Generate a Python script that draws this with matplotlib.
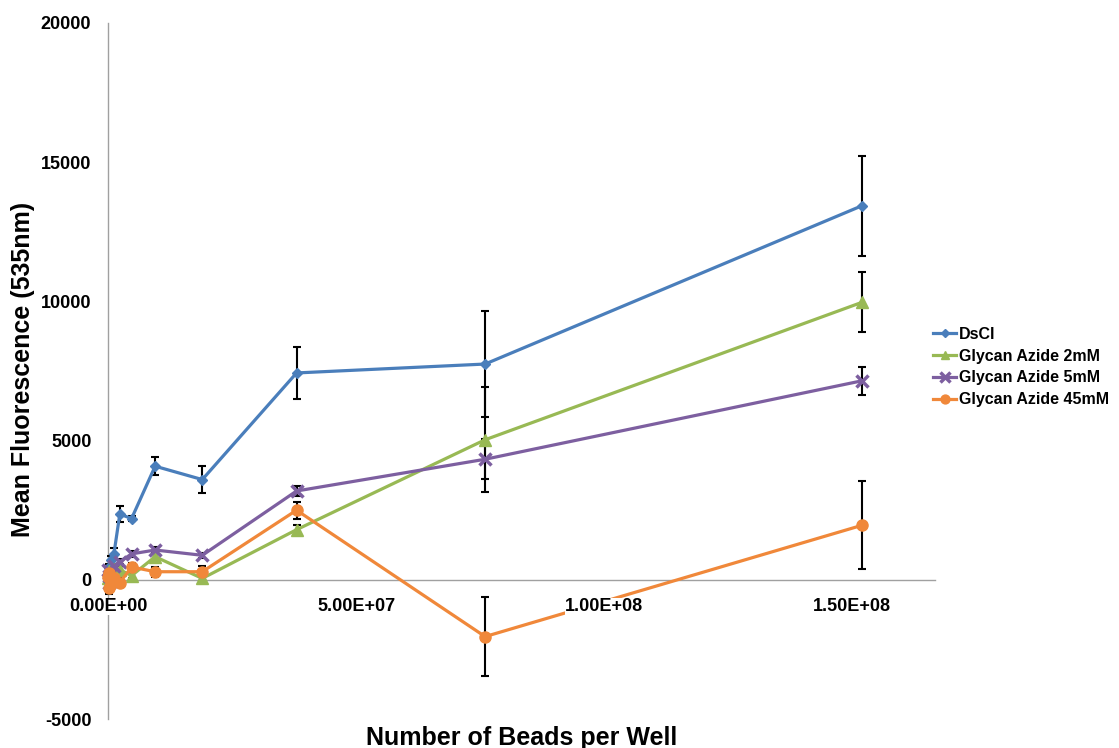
import matplotlib
matplotlib.use("Agg")
import matplotlib.pyplot as plt
from matplotlib.ticker import FuncFormatter, FixedLocator

plt.rcParams['font.family'] = ['Liberation Sans', 'DejaVu Sans']

# Beads per well (serial two-fold dilution)
beads = [0, 1.48e5, 2.97e5, 5.94e5, 1.19e6, 2.38e6, 4.75e6, 9.5e6, 1.9e7, 3.8e7, 7.6e7, 1.52e8]

dscl = [200, 300, 450, 700, 930, 2360, 2200, 4080, 3600, 7430, 7750, 13440]
dscl_err = [100, 100, 120, 150, 200, 280, 80, 320, 480, 930, 1900, 1800]

azide_2mm = [50, 150, 300, 200, 400, 360, 150, 830, 50, 1800, 5030, 9970]
azide_2mm_err = [60, 60, 80, 80, 100, 120, 100, 150, 100, 180, 1880, 1080]

azide_5mm = [350, 150, -100, 250, 480, 650, 930, 1070, 880, 3190, 4330, 7150]
azide_5mm_err = [80, 80, 80, 100, 100, 100, 120, 120, 100, 190, 710, 510]

azide_45mm = [100, 250, -300, -150, 50, -100, 460, 290, 290, 2500, -2040, 1960]
azide_45mm_err = [120, 150, 200, 150, 150, 150, 150, 180, 200, 310, 1420, 1590]

series_names = ["DsCl", "Glycan Azide 2mM", "Glycan Azide 5mM", "Glycan Azide 45mM"]
y_ticks = [-5000, 0, 5000, 10000, 15000, 20000]
x_ticks = [0, 5e7, 1e8, 1.5e8]

fig = plt.figure(figsize=(11.19, 7.48), dpi=100)
ax = fig.add_axes([108 / 1119, 1 - 719 / 748, (935 - 108) / 1119, (719 - 23) / 748])

styles = [
    (dscl, dscl_err, "#4A7EBB", "D", 5.5, 0),
    (azide_2mm, azide_2mm_err, "#98B954", "^", 8, 0),
    (azide_5mm, azide_5mm_err, "#7D5FA0", "x", 9, 2.5),
    (azide_45mm, azide_45mm_err, "#F0883A", "o", 8, 0),
]

handles = []
for (vals, errs, color, marker, ms, mew), name in zip(styles, series_names):
    eb = ax.errorbar(beads, vals, yerr=errs, fmt="none", ecolor="black",
                     elinewidth=1.5, capsize=3, capthick=1.5, zorder=2)
    for artist in eb.get_children():
        artist.set_clip_on(False)
    kw = dict(markeredgewidth=mew) if marker == "x" else dict(markeredgecolor=color)
    line, = ax.plot(beads, vals, color=color, linewidth=2.3, marker=marker,
                    markersize=ms, markerfacecolor=color, clip_on=False,
                    zorder=3, label=name, **kw)
    handles.append(line)

ax.set_xlim(0, 1.6667e8)
ax.set_ylim(-5000, 20000)

for side in ("top", "right"):
    ax.spines[side].set_visible(False)
ax.spines["bottom"].set_position(("data", 0))
for side in ("left", "bottom"):
    ax.spines[side].set_color("#A0A0A0")
    ax.spines[side].set_linewidth(1.0)
    ax.spines[side].set_zorder(1)

ax.xaxis.set_major_locator(FixedLocator(x_ticks))
ax.yaxis.set_major_locator(FixedLocator(y_ticks))
ax.xaxis.set_major_formatter(FuncFormatter(lambda v, p: f"{v:.2E}"))
ax.yaxis.set_major_formatter(FuncFormatter(lambda v, p: f"{int(v)}"))
ax.tick_params(axis="both", length=0, labelsize=13)
ax.tick_params(axis="y", pad=12)
ax.tick_params(axis="x", pad=13)
# tick labels sit above the data lines
ax.xaxis.set_zorder(5)
ax.yaxis.set_zorder(5)
for lab in ax.get_xticklabels() + ax.get_yticklabels():
    lab.set_fontweight("bold")
for lab in ax.get_xticklabels():
    lab.set_bbox(dict(facecolor="white", edgecolor="none", pad=0))

fig.text(521.5 / 1119, 1 - 745 / 748, "Number of Beads per Well", ha="center",
         va="baseline", fontsize=18, fontweight="bold")
fig.text(23 / 1119, 1 - 369 / 748, "Mean Fluorescence (535nm)", ha="center",
         va="center", rotation=90, fontsize=18, fontweight="bold")

fig.legend(handles=handles, loc="upper left", bbox_to_anchor=(933 / 1119, 1 - 327 / 748),
           frameon=False, borderpad=0, borderaxespad=0, handlelength=1.45,
           handletextpad=0.15, labelspacing=0.42, markerscale=0.8,
           prop=dict(size=11.5, weight="bold"))

fig.savefig("out.png", dpi=100)
